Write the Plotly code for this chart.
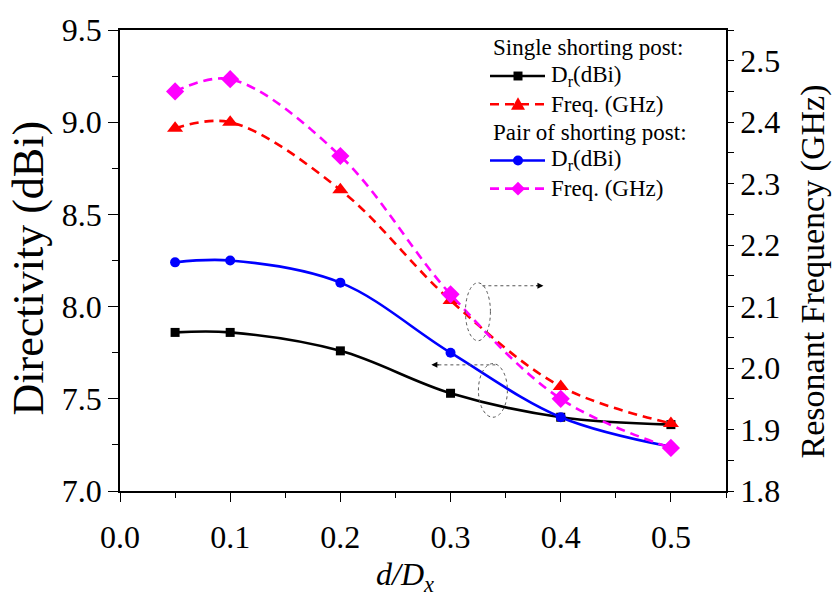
import plotly.graph_objects as go

# ---- data ----
d_ratio = [0.05, 0.1, 0.2, 0.3, 0.4, 0.5]
dr_single = [7.86, 7.86, 7.76, 7.53, 7.40, 7.36]
freq_single = [2.39, 2.40, 2.29, 2.11, 1.97, 1.91]
dr_pair = [8.24, 8.25, 8.13, 7.75, 7.40, 7.24]
freq_pair = [2.45, 2.47, 2.345, 2.12, 1.95, 1.87]

x_ticks = [0.0, 0.1, 0.2, 0.3, 0.4, 0.5]
y_left_ticks = [7.0, 7.5, 8.0, 8.5, 9.0, 9.5]
y_right_ticks = [1.8, 1.9, 2.0, 2.1, 2.2, 2.3, 2.4, 2.5]

group_titles = ["Single shorting post:", "Pair of shorting post:"]
legend_labels = ["D<sub>r</sub>(dBi)", "Freq. (GHz)", "D<sub>r</sub>(dBi)", "Freq. (GHz)"]

FONT = "Liberation Serif"
DASH = "9px,6px"
W, H = 835, 599
ML, MR, MT, MB = 120, 109, 27, 108
PW, PH = W - ML - MR, H - MT - MB


def px(x):  # pixel x -> paper
    return (x - ML) / PW


def py(y):  # pixel y -> paper
    return (H - MB - y) / PH


series = [
    dict(y=dr_single, axis="y", color="black", dash="solid", symbol="square", size=9),
    dict(y=freq_single, axis="y2", color="#FF0000", dash=DASH, symbol="triangle-up", size=14),
    dict(y=dr_pair, axis="y", color="#0000FF", dash="solid", symbol="circle", size=10),
    dict(y=freq_pair, axis="y2", color="#FF00FF", dash=DASH, symbol="diamond", size=14),
]

fig = go.Figure()
for s, lab in zip(series, legend_labels):
    fig.add_trace(go.Scatter(
        x=d_ratio, y=s["y"], name=lab, yaxis=s["axis"], showlegend=False,
        mode="lines+markers",
        line=dict(color=s["color"], width=2.6, shape="spline", dash=s["dash"]),
        marker=dict(symbol=s["symbol"], size=s["size"], color=s["color"])))

# ---- manual legend (layout positions in pixels) ----
rows_y = [73.3, 101.7, 158.3, 186.7]
title_y = [45, 130]
for t, ty in zip(group_titles, title_y):
    fig.add_annotation(x=px(491), y=py(ty), xref="paper", yref="paper", text=t,
                       showarrow=False, xanchor="left", yanchor="middle",
                       font=dict(family=FONT, size=23, color="black"))
for s, lab, ry in zip(series, legend_labels, rows_y):
    fig.add_shape(type="line", xref="paper", yref="paper",
                  x0=px(490), x1=px(545), y0=py(ry), y1=py(ry),
                  line=dict(color=s["color"], width=2.6, dash=s["dash"]))
    cx, cy = 518, ry
    r = s["size"] / 2
    if s["symbol"] == "square":
        fig.add_shape(type="rect", xref="paper", yref="paper",
                      x0=px(cx - r), x1=px(cx + r), y0=py(cy - r), y1=py(cy + r),
                      fillcolor=s["color"], line=dict(width=0))
    elif s["symbol"] == "circle":
        fig.add_shape(type="circle", xref="paper", yref="paper",
                      x0=px(cx - r), x1=px(cx + r), y0=py(cy - r), y1=py(cy + r),
                      fillcolor=s["color"], line=dict(width=0))
    elif s["symbol"] == "triangle-up":
        path = (f"M {px(cx - r)},{py(cy + r * 0.8)} L {px(cx + r)},{py(cy + r * 0.8)} "
                f"L {px(cx)},{py(cy - r)} Z")
        fig.add_shape(type="path", xref="paper", yref="paper", path=path,
                      fillcolor=s["color"], line=dict(width=0))
    else:
        path = (f"M {px(cx - r)},{py(cy)} L {px(cx)},{py(cy - r)} "
                f"L {px(cx + r)},{py(cy)} L {px(cx)},{py(cy + r)} Z")
        fig.add_shape(type="path", xref="paper", yref="paper", path=path,
                      fillcolor=s["color"], line=dict(width=0))
    fig.add_annotation(x=px(549), y=py(ry), xref="paper", yref="paper", text=lab,
                       showarrow=False, xanchor="left", yanchor="middle",
                       font=dict(family=FONT, size=23, color="black"))

# ---- annotation ellipses (dotted) and arrows ----
fig.add_shape(type="circle", xref="x", yref="y", x0=0.3135, x1=0.3362, y0=7.815, y1=8.129,
              line=dict(color="#555555", width=1, dash="dot"))
fig.add_shape(type="circle", xref="x", yref="y", x0=0.3253, x1=0.3516, y0=7.400, y1=7.691,
              line=dict(color="#555555", width=1, dash="dot"))
fig.add_shape(type="line", xref="x", yref="y", x0=0.3289, x1=0.378, y0=8.113, y1=8.113,
              line=dict(color="#555555", width=1, dash="dot"))
fig.add_shape(type="line", xref="x", yref="y", x0=0.3407, x1=0.289, y0=7.684, y1=7.684,
              line=dict(color="#555555", width=1, dash="dot"))
fig.add_annotation(x=0.3843, y=8.113, xref="x", yref="y", ax=-9, ay=0, text="",
                   showarrow=True, arrowhead=2, arrowsize=1.2, arrowwidth=1, arrowcolor="black")
fig.add_annotation(x=0.2826, y=7.684, xref="x", yref="y", ax=9, ay=0, text="",
                   showarrow=True, arrowhead=2, arrowsize=1.2, arrowwidth=1, arrowcolor="black")

# ---- axis titles ----
fig.add_annotation(x=px(28), y=py(267), xref="paper", yref="paper", text="Directivity (dBi)",
                   textangle=-90, showarrow=False, xanchor="center", yanchor="middle",
                   font=dict(family=FONT, size=44, color="black"))
fig.add_annotation(x=px(813), y=py(270), xref="paper", yref="paper", text="Resonant Frequency (GHz)",
                   textangle=-90, showarrow=False, xanchor="center", yanchor="middle",
                   font=dict(family=FONT, size=34, color="black"))
fig.add_annotation(x=px(405), y=py(577), xref="paper", yref="paper", text="<i>d/D<sub>x</sub></i>",
                   showarrow=False, xanchor="center", yanchor="middle",
                   font=dict(family=FONT, size=32, color="black"))

axis_common = dict(showgrid=False, zeroline=False, showline=True, linecolor="black",
                   linewidth=1.5, ticks="outside", tickwidth=1.2, tickcolor="black",
                   tickfont=dict(family=FONT, size=32, color="black"))

fig.update_layout(
    width=W, height=H,
    margin=dict(l=ML, r=MR, t=MT, b=MB),
    paper_bgcolor="white", plot_bgcolor="white",
    font=dict(family=FONT, color="black"),
    showlegend=False,
    xaxis=dict(range=[0, 0.55], tickvals=x_ticks, ticktext=[f"{v:.1f}" for v in x_ticks],
               mirror=True, ticklen=9, ticklabelstandoff=8,
               minor=dict(dtick=0.05, tick0=0, ticks="outside", ticklen=5, tickcolor="black", tickwidth=1.2),
               **axis_common),
    yaxis=dict(range=[7.0, 9.5], tickvals=y_left_ticks, ticktext=[f"{v:.1f}" for v in y_left_ticks],
               ticklen=10,
               minor=dict(dtick=0.25, tick0=7.0, ticks="outside", ticklen=6, tickcolor="black", tickwidth=1.2),
               **axis_common),
    yaxis2=dict(range=[1.8, 2.55], overlaying="y", side="right",
                tickvals=y_right_ticks, ticktext=[f"{v:.1f}" for v in y_right_ticks],
                ticklen=6,
                minor=dict(dtick=0.05, tick0=1.8, ticks="outside", ticklen=6, tickcolor="black", tickwidth=1.2),
                **axis_common),
)

fig.write_html("out.html")
